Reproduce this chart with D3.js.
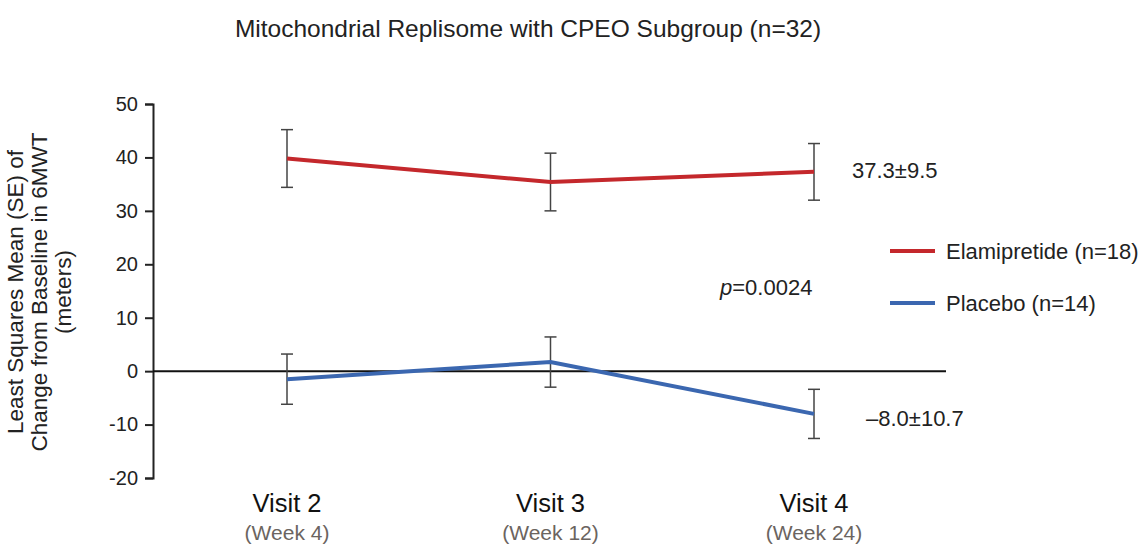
<!DOCTYPE html>
<html>
<head>
<meta charset="utf-8">
<script src="https://cdnjs.cloudflare.com/ajax/libs/d3/7.8.5/d3.min.js"></script>
<style>
  body { margin: 0; background: #fff; }
  text { font-family: "Liberation Sans", Arial, sans-serif; }
</style>
</head>
<body>
<div id="chart"></div>
<script>
// visits on the x axis
var visits = ["Visit 2", "Visit 3", "Visit 4"];
var weeks = ["(Week 4)", "(Week 12)", "(Week 24)"];
var yTicks = [-20, -10, 0, 10, 20, 30, 40, 50];

// least squares means and SE
var elamiMean = [39.8, 35.4, 37.3];
var elamiSE = [5.4, 5.4, 5.3];
var placeboMean = [-1.5, 1.7, -8.0];
var placeboSE = [4.7, 4.7, 4.6];

var width = 1143, height = 545;
var svg = d3.select("#chart").append("svg")
  .attr("width", width).attr("height", height);

var x = d3.scalePoint().domain(visits).range([287, 814]);
var y = d3.scaleLinear().domain([-20, 50]).range([478, 104]);

// title
svg.append("text")
  .attr("x", 528).attr("y", 37)
  .attr("text-anchor", "middle")
  .style("font-size", "24.5px").style("fill", "#222")
  .text("Mitochondrial Replisome with CPEO Subgroup (n=32)");

// y axis
var yAxis = svg.append("g")
  .attr("transform", "translate(153,0)")
  .call(d3.axisLeft(y).tickValues(yTicks).tickSize(8).tickPadding(7)
    .tickFormat(function (d) { return String(d); }));
yAxis.select(".domain").attr("stroke", "#222").attr("stroke-width", 2);
yAxis.selectAll(".tick line").attr("stroke", "#222").attr("stroke-width", 2);
yAxis.selectAll(".tick text")
  .style("font-size", "20px").style("fill", "#222")
  .style("font-family", "Liberation Sans, Arial, sans-serif");

// zero line
svg.append("line")
  .attr("x1", 153).attr("x2", 946)
  .attr("y1", y(0)).attr("y2", y(0))
  .attr("stroke", "#111").attr("stroke-width", 2);

// y label
var ylab = svg.append("text")
  .attr("transform", "translate(0,292) rotate(-90)")
  .attr("text-anchor", "middle")
  .style("font-size", "22.5px").style("fill", "#222");
["Least Squares Mean (SE) of", "Change from Baseline in 6MWT", "(meters)"].forEach(function (t, i) {
  ylab.append("tspan").attr("x", 0).attr("y", 23 + i * 24).text(t);
});

// x labels
svg.selectAll(".visit").data(visits).enter().append("text")
  .attr("x", function (d) { return x(d); })
  .attr("y", 512)
  .attr("text-anchor", "middle")
  .style("font-size", "25.5px").style("fill", "#111")
  .text(function (d) { return d; });
svg.selectAll(".week").data(weeks).enter().append("text")
  .attr("x", function (d, i) { return x(visits[i]); })
  .attr("y", 540)
  .attr("text-anchor", "middle")
  .style("font-size", "21px").style("fill", "#6b6460")
  .text(function (d) { return d; });

function drawSeries(means, ses, color) {
  var pts = visits.map(function (v, i) { return { v: v, m: means[i], se: ses[i] }; });
  var g = svg.append("g");
  // error bars
  pts.forEach(function (p) {
    var cx = x(p.v);
    g.append("line").attr("x1", cx).attr("x2", cx)
      .attr("y1", y(p.m + p.se)).attr("y2", y(p.m - p.se))
      .attr("stroke", "#444").attr("stroke-width", 1.5);
    [p.m + p.se, p.m - p.se].forEach(function (e) {
      g.append("line").attr("x1", cx - 6).attr("x2", cx + 6)
        .attr("y1", y(e)).attr("y2", y(e))
        .attr("stroke", "#444").attr("stroke-width", 1.5);
    });
  });
  g.append("path").datum(pts)
    .attr("fill", "none").attr("stroke", color).attr("stroke-width", 4)
    .attr("d", d3.line().x(function (d) { return x(d.v); }).y(function (d) { return y(d.m); }));
}
drawSeries(elamiMean, elamiSE, "#c4282c");
drawSeries(placeboMean, placeboSE, "#3b67b0");

// annotations
svg.append("text").attr("x", 852).attr("y", 178)
  .style("font-size", "22px").style("fill", "#222").text("37.3±9.5");
svg.append("text").attr("x", 866).attr("y", 426)
  .style("font-size", "22px").style("fill", "#222").text("\u20138.0±10.7");
var pt = svg.append("text").attr("x", 720).attr("y", 295)
  .style("font-size", "22px").style("fill", "#222");
pt.append("tspan").style("font-style", "italic").text("p");
pt.append("tspan").text("=0.0024");

// legend
var legend = [["Elamipretide (n=18)", "#c4282c"], ["Placebo (n=14)", "#3b67b0"]];
legend.forEach(function (l, i) {
  var ly = 251 + i * 52;
  svg.append("line").attr("x1", 890).attr("x2", 935).attr("y1", ly).attr("y2", ly)
    .attr("stroke", l[1]).attr("stroke-width", 4);
  svg.append("text").attr("x", 946).attr("y", ly + 8)
    .style("font-size", "22px").style("fill", "#222").text(l[0]);
});
</script>
</body>
</html>
